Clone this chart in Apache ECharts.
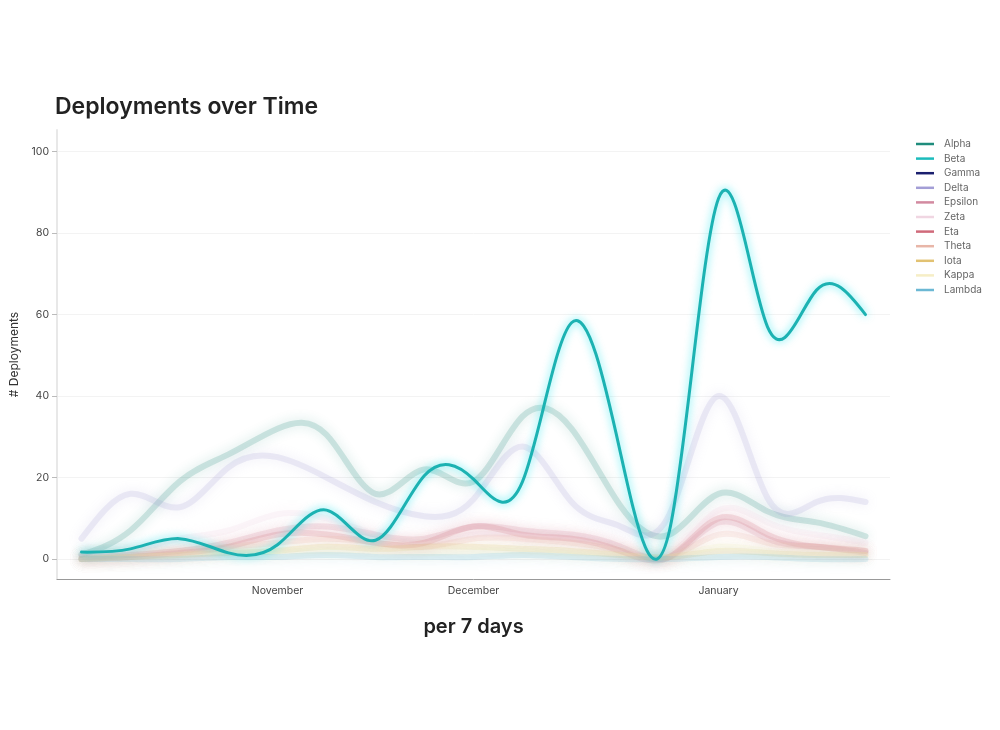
<!DOCTYPE html>
<html>
<head>
<meta charset="utf-8">
<title>Deployments over Time</title>
<script src="https://cdn.jsdelivr.net/npm/echarts@6/dist/echarts.min.js"></script>
<style>
  html, body { margin: 0; padding: 0; background: #fff; }
  #main { width: 1000px; height: 730px; }
</style>
</head>
<body>
<div id="main"></div>
<script>
// weekly buckets (week start)
var weeks = ["Oct 2","Oct 9","Oct 16","Oct 23","Oct 30","Nov 6","Nov 13","Nov 20","Nov 27",
             "Dec 4","Dec 11","Dec 18","Dec 25","Jan 1","Jan 8","Jan 15","Jan 22"];
// month labels shown under the axis, by week index
var monthTickIdx = [0, 4, 8, 13];
var monthTickText = ["", "November", "December", "January"];
var yTicks = [0, 20, 40, 60, 80, 100];

var seriesNames = ["Alpha","Beta","Gamma","Delta","Epsilon","Zeta","Eta","Theta","Iota","Kappa","Lambda"];
var seriesColors = ["#1f8c7c","#1cbcbc","#1a1f6e","#a39ed6","#d28aa0","#f0d6e2","#d06a7a","#e8b6a8","#e2c272","#f6eec6","#6cb8d4"];

var alpha   = [1, 7, 19, 25.7, 32, 30.5, 16, 22, 19, 35, 32, 13, 6, 16, 11.7, 9, 5.6];
var beta    = [1.7, 2.5, 5, 1.5, 3.5, 12, 4.6, 20.5, 19.6, 19, 58, 26, 7, 88.5, 57, 66, 60];
var gamma   = [null, null, null, null, null, null, null, null, null, null, null, null, null, null, null, null, null];
var delta   = [5, 16, 12.7, 22.5, 25, 20, 14, 10.5, 14.7, 27.6, 14, 8, 11, 40, 15, 14, 14];
var epsilon = [0.5, 1, 2, 4, 7, 8, 6, 5, 8, 7, 6, 3, 0.5, 9, 5, 3, 1.5];
var zeta    = [1, 2, 5, 7, 11, 10, 6, 4, 6, 6, 5, 3, 1, 12, 9, 6, 4];
var eta     = [0, 0.5, 1.5, 3, 6, 6, 4, 4, 8, 6, 5, 2, 0.5, 10, 6, 3, 2];
var theta   = [0, 1, 2, 3, 4, 5, 4, 3, 5, 5, 4, 2, 0.5, 6, 4, 3, 2];
var iota    = [0, 0.5, 1, 1.5, 2, 3, 2.5, 3, 3, 2.5, 2, 1, 0.5, 2, 1.5, 1, 1];
var kappa   = [0, 0.5, 1, 2, 2, 2, 2, 1.5, 2, 2, 1.5, 1, 0.5, 3, 2, 1.5, 1];
var lambda  = [0, 0, 0, 0.5, 0.5, 1, 0.5, 0.5, 0.5, 1, 0.5, 0, 0, 0.5, 0.5, 0, 0];

var allValues = [alpha, beta, gamma, delta, epsilon, zeta, eta, theta, iota, kappa, lambda];
var focusName = "Beta";
var FONT = "Inter, 'Noto Sans', sans-serif";

var chartApp = {
    init: function () {
        this.chart = echarts.init(document.getElementById("main"));
        this.chart.setOption(this.buildOption());
    },
    // natural cubic spline control points (same maths as d3 curveNatural)
    naturalCtrl: function (x) {
        var i, m, n = x.length - 1, a = [], b = [], r = [];
        a[0] = 0; b[0] = 2; r[0] = x[0] + 2 * x[1];
        for (i = 1; i < n - 1; ++i) { a[i] = 1; b[i] = 4; r[i] = 4 * x[i] + 2 * x[i + 1]; }
        a[n - 1] = 2; b[n - 1] = 7; r[n - 1] = 8 * x[n - 1] + x[n];
        for (i = 1; i < n; ++i) { m = a[i] / b[i - 1]; b[i] -= m; r[i] -= m * r[i - 1]; }
        a[n - 1] = r[n - 1] / b[n - 1];
        for (i = n - 2; i >= 0; --i) a[i] = (r[i] - a[i + 1]) / b[i];
        b[n - 1] = (x[n] + a[n - 1]) / 2;
        for (i = 0; i < n - 1; ++i) b[i] = 2 * x[i + 1] - a[i + 1];
        return [a, b];
    },
    // one smooth path per series, points placed by the axes (api.coord)
    makeRender: function (values, isFocus, color) {
        var self = this;
        return function (params, api) {
            if (params.dataIndex !== 0) return null;
            var xs = [], ys = [];
            for (var i = 0; i < values.length; i++) {
                if (values[i] == null) continue;
                var p = api.coord([i, values[i]]);
                xs.push(p[0]); ys.push(p[1]);
            }
            if (xs.length < 3) return null;
            var cx = self.naturalCtrl(xs), cy = self.naturalCtrl(ys);
            var d = "M" + xs[0] + " " + ys[0];
            for (var k = 0; k < xs.length - 1; k++) {
                d += " C" + cx[0][k] + " " + cy[0][k] + " " + cx[1][k] + " " + cy[1][k] + " " + xs[k + 1] + " " + ys[k + 1];
            }
            var style = isFocus ? {
                fill: null, stroke: "#1cb2b2", lineWidth: 3, lineJoin: "round", lineCap: "round",
                shadowBlur: 8, shadowColor: "rgba(0,225,235,0.7)"
            } : {
                fill: null, stroke: color, lineWidth: 6, lineJoin: "round", lineCap: "round",
                opacity: 0.19, shadowBlur: 12, shadowColor: color
            };
            return { type: "path", shape: { pathData: d }, style: style, silent: true };
        };
    },
    buildSeries: function () {
        var list = [];
        for (var i = 0; i < seriesNames.length; i++) {
            var isFocus = seriesNames[i] === focusName;
            var vals = allValues[i];
            list.push({
                name: seriesNames[i],
                type: "custom",
                coordinateSystem: "cartesian2d",
                data: vals.map(function (v, idx) { return [idx, v]; }),
                encode: { x: 0, y: 1 },
                renderItem: this.makeRender(vals, isFocus, seriesColors[i]),
                z: isFocus ? 5 : 2,
                itemStyle: { color: seriesColors[i] },
                emphasis: { disabled: true }
            });
        }
        return list;
    },
    buildOption: function () {
        return {
            animation: false,
            backgroundColor: "#fff",
            textStyle: { fontFamily: FONT },
            title: {
                text: "Deployments over Time",
                left: 50,
                top: 91,
                textStyle: { fontSize: 23, fontWeight: 600, color: "#222", fontFamily: FONT }
            },
            legend: {
                data: seriesNames,
                orient: "vertical",
                left: 916,
                top: 139,
                padding: 0,
                icon: "rect",
                itemWidth: 18,
                itemHeight: 2.5,
                itemGap: 4.6,
                textStyle: { fontSize: 10, color: "#666", lineHeight: 10, padding: [0, 0, 0, 5], fontFamily: FONT }
            },
            tooltip: { show: false },
            grid: { left: 57, right: 110, top: 130, bottom: 151, containLabel: false, outerBoundsMode: "none" },
            xAxis: {
                type: "category",
                data: weeks,
                boundaryGap: true,
                name: "per 7 days",
                nameLocation: "middle",
                nameGap: 38,
                nameTextStyle: { fontSize: 20, fontWeight: 600, color: "#222", fontFamily: FONT },
                axisLine: { onZero: false, lineStyle: { color: "#999", width: 1 } },
                axisTick: {
                    alignWithLabel: true,
                    length: 4,
                    lineStyle: { color: "#999" },
                    interval: function (idx) { return monthTickIdx.indexOf(idx) >= 0; }
                },
                axisLabel: {
                    interval: function (idx) { return monthTickIdx.indexOf(idx) >= 0; },
                    formatter: function (val, idx) {
                        var k = monthTickIdx.indexOf(idx);
                        return k >= 0 ? monthTickText[k] : "";
                    },
                    fontSize: 10.5,
                    color: "#444",
                    margin: 6
                },
                splitLine: { show: false }
            },
            yAxis: {
                type: "value",
                min: -4.9,
                max: 105.3,
                name: "# Deployments",
                nameLocation: "middle",
                nameGap: 37,
                nameTextStyle: { fontSize: 12, color: "#333", fontFamily: FONT },
                axisLine: { show: true, lineStyle: { color: "#e8e8e8", width: 2 } },
                axisTick: { show: true, length: 5, lineStyle: { color: "#bbb" }, customValues: yTicks },
                axisLabel: { fontSize: 10.5, color: "#444", margin: 8, customValues: yTicks },
                splitLine: { show: true, lineStyle: { color: "#f3f3f3", width: 1 } }
            },
            series: this.buildSeries()
        };
    }
};

chartApp.init();
</script>
</body>
</html>
